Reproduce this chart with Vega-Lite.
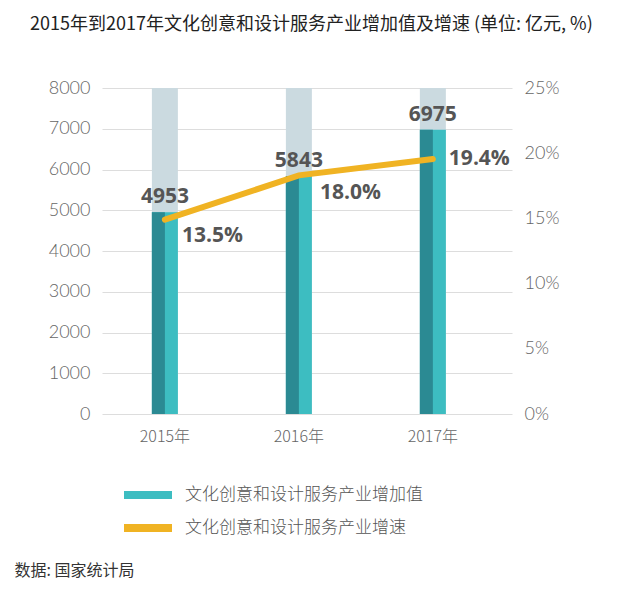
{
  "$schema": "https://vega.github.io/schema/vega-lite/v6.json",
  "width": 410,
  "height": 326,
  "autosize": "none",
  "padding": {"left": 102, "top": 88, "right": 120, "bottom": 182},
  "background": "white",
  "title": {
    "text": "2015年到2017年文化创意和设计服务产业增加值及增速 (单位: 亿元, %)",
    "anchor": "start",
    "frame": "group",
    "dx": -72,
    "offset": 45,
    "font": "Noto Sans CJK SC",
    "fontSize": 18,
    "fontWeight": "normal",
    "color": "#222222"
  },
  "config": {
    "view": {"stroke": null},
    "axis": {"labelFont": "Lato", "labelFontWeight": 300, "labelColor": "#666666"},
    "legend": {
      "orient": "none",
      "legendX": 22,
      "legendY": 383,
      "title": null,
      "direction": "vertical",
      "symbolType": "M-1,-0.167H1V0.167H-1Z",
      "symbolSize": 2304,
      "symbolStrokeWidth": 0,
      "labelFont": "Noto Sans CJK SC",
      "labelFontWeight": 300,
      "labelFontSize": 17,
      "labelColor": "#555555",
      "labelOffset": 13,
      "labelLimit": 400,
      "rowPadding": 1
    }
  },
  "data": {
    "values": [
      {"year": "2015年", "value": 4953, "rate": 14.9, "rateLabel": "13.5%", "s1": "文化创意和设计服务产业增加值", "s2": "文化创意和设计服务产业增速"},
      {"year": "2016年", "value": 5843, "rate": 18.3, "rateLabel": "18.0%", "s1": "文化创意和设计服务产业增加值", "s2": "文化创意和设计服务产业增速"},
      {"year": "2017年", "value": 6975, "rate": 19.55, "rateLabel": "19.4%", "s1": "文化创意和设计服务产业增加值", "s2": "文化创意和设计服务产业增速"}
    ]
  },
  "encoding": {
    "x": {
      "field": "year",
      "type": "nominal",
      "sort": null,
      "scale": {"paddingInner": 0.806, "paddingOuter": 0.433, "align": 0.43},
      "axis": {
        "title": "数据: 国家统计局",
        "titleFont": "Noto Sans CJK SC",
        "titleFontSize": 16,
        "titleFontWeight": "normal",
        "titleColor": "#333333",
        "titleX": -88,
        "titleY": 156,
        "titleAlign": "left",
        "titleBaseline": "middle",
        "titleAnchor": "start",
        "labelAngle": 0,
        "labelFont": "Noto Sans CJK SC",
        "labelFontWeight": 300,
        "labelFontSize": 16,
        "labelColor": "#666666",
        "labelPadding": 14,
        "ticks": false,
        "domain": false
      }
    }
  },
  "layer": [
    {
      "layer": [
        {
          "mark": {"type": "bar", "color": "#cbdae0"},
          "encoding": {
            "y": {"datum": 8000, "type": "quantitative"}
          }
        },
        {
          "mark": {"type": "bar"},
          "encoding": {
            "y": {"field": "value", "type": "quantitative"},
            "color": {
              "field": "s1",
              "type": "nominal",
              "scale": {
                "domain": ["文化创意和设计服务产业增加值", "文化创意和设计服务产业增速"],
                "range": ["#3dbdc1", "#f0b323"]
              },
              "legend": {
                "encode": {
                  "symbols": {
                    "update": {
                      "fill": {"scale": "color", "field": "value"},
                      "strokeWidth": {"value": 0}
                    }
                  }
                }
              }
            }
          }
        },
        {
          "mark": {"type": "bar", "color": "#2b8a93", "width": 13, "xOffset": -6.5},
          "encoding": {
            "y": {"field": "value", "type": "quantitative"}
          }
        },
        {
          "mark": {"type": "text", "font": "Open Sans", "fontWeight": "bold", "fontSize": 21, "color": "#555555", "baseline": "alphabetic", "dy": -9},
          "encoding": {
            "y": {"field": "value", "type": "quantitative"},
            "text": {"field": "value", "type": "quantitative", "format": "d"}
          }
        }
      ],
      "encoding": {
        "y": {
          "type": "quantitative",
          "scale": {"domain": [0, 8000], "nice": false},
          "axis": {
            "title": null,
            "orient": "left",
            "values": [0, 1000, 2000, 3000, 4000, 5000, 6000, 7000, 8000],
            "format": "d",
            "labelFontSize": 18,
            "labelPadding": 12,
            "ticks": false,
            "domain": false,
            "grid": true,
            "gridColor": "#dddddd",
            "gridWidth": 1
          }
        }
      }
    },
    {
      "layer": [
        {
          "mark": {"type": "line", "strokeWidth": 6, "strokeCap": "round"},
          "encoding": {
            "y": {"field": "rate", "type": "quantitative"},
            "color": {"field": "s2", "type": "nominal"}
          }
        },
        {
          "transform": [{"filter": "datum.year == '2015年'"}],
          "mark": {"type": "text", "font": "Open Sans", "fontWeight": "bold", "fontSize": 21, "color": "#555555", "align": "left", "baseline": "middle", "dx": 17, "dy": 16},
          "encoding": {
            "y": {"field": "rate", "type": "quantitative"},
            "text": {"field": "rateLabel"}
          }
        },
        {
          "transform": [{"filter": "datum.year == '2016年'"}],
          "mark": {"type": "text", "font": "Open Sans", "fontWeight": "bold", "fontSize": 21, "color": "#555555", "align": "left", "baseline": "middle", "dx": 21, "dy": 18},
          "encoding": {
            "y": {"field": "rate", "type": "quantitative"},
            "text": {"field": "rateLabel"}
          }
        },
        {
          "transform": [{"filter": "datum.year == '2017年'"}],
          "mark": {"type": "text", "font": "Open Sans", "fontWeight": "bold", "fontSize": 21, "color": "#555555", "align": "left", "baseline": "middle", "dx": 16, "dy": 0},
          "encoding": {
            "y": {"field": "rate", "type": "quantitative"},
            "text": {"field": "rateLabel"}
          }
        }
      ],
      "encoding": {
        "y": {
          "type": "quantitative",
          "scale": {"domain": [0, 25], "nice": false},
          "axis": {
            "title": null,
            "orient": "right",
            "values": [0, 5, 10, 15, 20, 25],
            "labelExpr": "datum.value + '%'",
            "labelFontSize": 18,
            "labelPadding": 12,
            "ticks": false,
            "domain": false,
            "grid": false
          }
        }
      }
    }
  ],
  "resolve": {"scale": {"y": "independent"}}
}
